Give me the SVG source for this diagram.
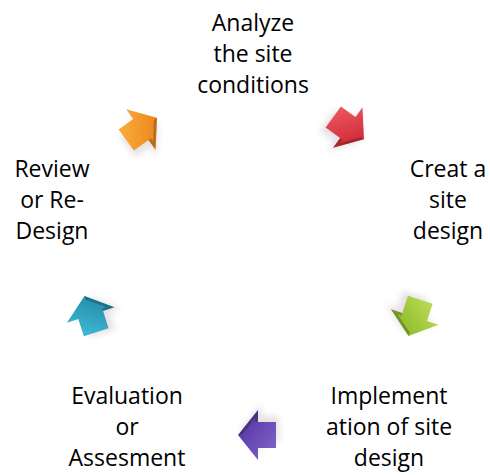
<svg xmlns="http://www.w3.org/2000/svg" width="490" height="475" viewBox="0 0 490 475">
  <defs>
    <style>
      .lbl { font-family: "Open Sans", "Liberation Sans", sans-serif; font-size: 23px; fill: #000; text-anchor: middle; }
      .shadow { fill: #b9a9b4; opacity: 0.35; filter: url(#soft); }
      .edge { fill: #000; opacity: 0.22; }
    </style>
    <filter id="soft" x="-50%" y="-50%" width="200%" height="200%">
      <feGaussianBlur stdDeviation="3"/>
    </filter>
    <!-- block arrow pointing along +x, centred on the origin -->
    <path id="arrow" d="M-17,-13 L1,-13 L1,-25 L21,0 L1,25 L1,13 L-17,13 Z"/>
    <path id="side" d="M1,13 L1,25 L21,0 L17,0 L4,17 L4,13 Z"/>
    <linearGradient id="gRed" x1="0" y1="0" x2="1" y2="1">
      <stop offset="0" stop-color="#f2606a"/>
      <stop offset="1" stop-color="#c41c26"/>
    </linearGradient>
    <linearGradient id="gGreen" x1="0" y1="0" x2="1" y2="1">
      <stop offset="0" stop-color="#c2e25a"/>
      <stop offset="1" stop-color="#82b020"/>
    </linearGradient>
    <linearGradient id="gPurple" x1="0" y1="0" x2="1" y2="1">
      <stop offset="0" stop-color="#8466d0"/>
      <stop offset="1" stop-color="#4e2f9a"/>
    </linearGradient>
    <linearGradient id="gTeal" x1="0" y1="0" x2="1" y2="1">
      <stop offset="0" stop-color="#45c0dc"/>
      <stop offset="1" stop-color="#1a809e"/>
    </linearGradient>
    <linearGradient id="gOrange" x1="0" y1="0" x2="1" y2="1">
      <stop offset="0" stop-color="#fdb445"/>
      <stop offset="1" stop-color="#e6780e"/>
    </linearGradient>
  </defs>

  <!-- step labels -->
  <g id="node-analyze">
    <text class="lbl" x="253" y="31">Analyze</text>
    <text class="lbl" x="253" y="62">the site</text>
    <text class="lbl" x="253" y="93">conditions</text>
  </g>
  <g id="node-create">
    <text class="lbl" x="448" y="177">Creat a</text>
    <text class="lbl" x="448" y="208">site</text>
    <text class="lbl" x="448" y="239">design</text>
  </g>
  <g id="node-implement">
    <text class="lbl" x="389" y="404">Implement</text>
    <text class="lbl" x="389" y="435">ation of site</text>
    <text class="lbl" x="389" y="466">design</text>
  </g>
  <g id="node-evaluation">
    <text class="lbl" x="127" y="404">Evaluation</text>
    <text class="lbl" x="127" y="435">or</text>
    <text class="lbl" x="127" y="466">Assesment</text>
  </g>
  <g id="node-review">
    <text class="lbl" x="52" y="177">Review</text>
    <text class="lbl" x="52" y="208">or Re-</text>
    <text class="lbl" x="52" y="239">Design</text>
  </g>

  <!-- cycle arrows between the steps -->
  <g id="connectors">
    <g transform="translate(347,127) rotate(36)">
      <use href="#arrow" class="shadow" transform="translate(-3,6)"/>
      <use href="#arrow" fill="url(#gRed)"/>
      <use href="#side" class="edge"/>
    </g>
    <g transform="translate(415,316) rotate(108)">
      <use href="#arrow" class="shadow" transform="translate(-3,6)"/>
      <use href="#arrow" fill="url(#gGreen)"/>
      <use href="#side" class="edge"/>
    </g>
    <g transform="translate(259,435) rotate(180)">
      <use href="#arrow" class="shadow" transform="translate(-3,6)"/>
      <use href="#arrow" fill="url(#gPurple)"/>
      <use href="#side" class="edge"/>
    </g>
    <g transform="translate(91,316) rotate(252)">
      <use href="#arrow" class="shadow" transform="translate(-3,6)"/>
      <use href="#arrow" fill="url(#gTeal)"/>
      <use href="#side" class="edge"/>
    </g>
    <g transform="translate(140,130) rotate(324)">
      <use href="#arrow" class="shadow" transform="translate(-3,6)"/>
      <use href="#arrow" fill="url(#gOrange)"/>
      <use href="#side" class="edge"/>
    </g>
  </g>
</svg>
